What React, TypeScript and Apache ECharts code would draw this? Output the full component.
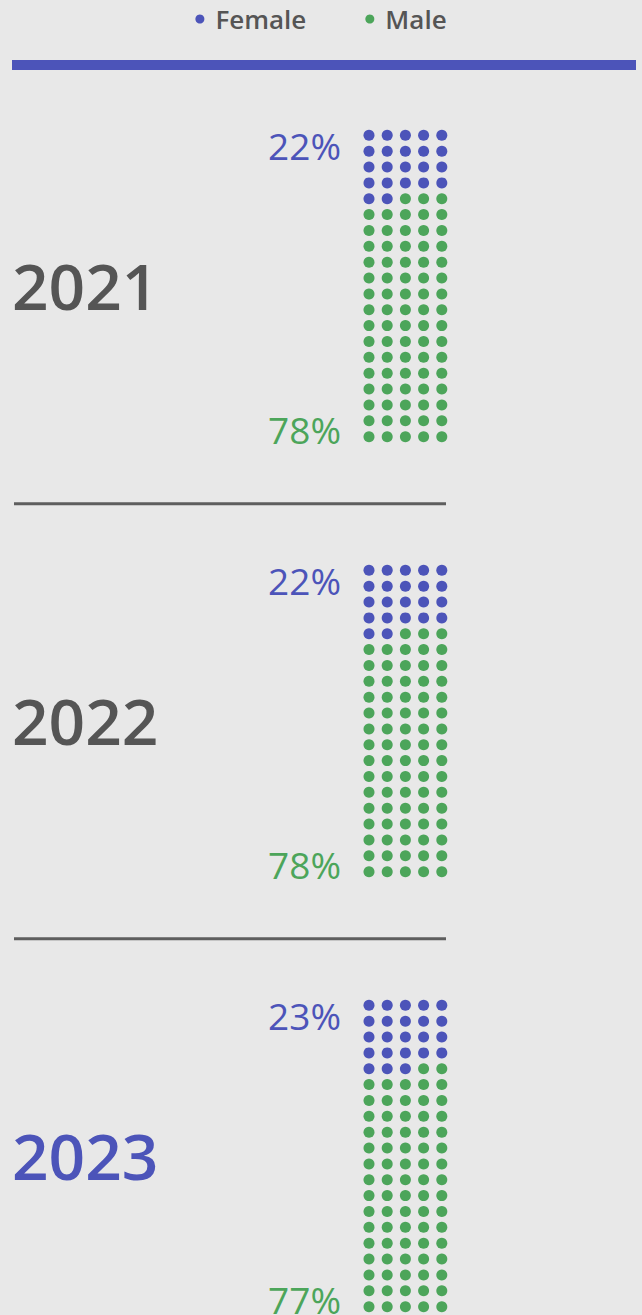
import React, { useEffect, useRef } from "react";
import * as echarts from "echarts";

const years = ["2021", "2022", "2023"];
const femaleDots = [22, 22, 23];
const maleDots = [78, 78, 77];
const femalePct = ["22%", "22%", "23%"];
const malePct = ["78%", "78%", "77%"];
const highlightYear = "2023";

const COLS = 5;
const ROWS = 20;
const BLUE = "#4c54b9";
const GREEN = "#4ca55a";
const GREY = "#555555";
const BG = "#e8e8e8";
const FONT = "'Open Sans', sans-serif";

export default function App() {
  const ref = useRef<HTMLDivElement>(null);
  useEffect(() => {
    document.body.style.margin = "0";
    const chart = echarts.init(ref.current!, undefined, { renderer: "svg" });
    const gridLeft = 369;
    const colStep = 18.2;
    const rowStep = 15.86;
    const firstTop = 135.3;
    const blockGap = 435;
    const dotSize = 11;

    const grids: any[] = [];
    const xAxes: any[] = [];
    const yAxes: any[] = [];
    const series: any[] = [];
    const graphics: any[] = [];

    years.forEach((yr, i) => {
      const top = firstTop + i * blockGap;
      const h = (ROWS - 1) * rowStep;
      grids.push({ left: gridLeft, top, width: (COLS - 1) * colStep, height: h });
      xAxes.push({ gridIndex: i, type: "value", min: 0, max: COLS - 1, show: false });
      yAxes.push({ gridIndex: i, type: "value", min: 0, max: ROWS - 1, inverse: true, show: false });
      const f: number[][] = [];
      const m: number[][] = [];
      const total = femaleDots[i] + maleDots[i];
      for (let k = 0; k < total; k++) {
        const pt = [k % COLS, Math.floor(k / COLS)];
        if (k < femaleDots[i]) f.push(pt);
        else m.push(pt);
      }
      series.push({
        name: "Female", type: "scatter", xAxisIndex: i, yAxisIndex: i, data: f,
        symbol: "circle", symbolSize: dotSize, itemStyle: { color: BLUE, opacity: 1 }, silent: true,
      });
      series.push({
        name: "Male", type: "scatter", xAxisIndex: i, yAxisIndex: i, data: m,
        symbol: "circle", symbolSize: dotSize, itemStyle: { color: GREEN, opacity: 1 }, silent: true,
      });
      graphics.push({
        type: "text", x: 341, y: top + 10,
        style: { text: femalePct[i], fill: BLUE, font: `400 37px ${FONT}`, textAlign: "right", textVerticalAlign: "middle" },
      });
      graphics.push({
        type: "text", x: 341, y: top + h - 7,
        style: { text: malePct[i], fill: GREEN, font: `400 37px ${FONT}`, textAlign: "right", textVerticalAlign: "middle" },
      });
      graphics.push({
        type: "text", x: 12, y: top + h / 2,
        style: { text: yr, fill: yr === highlightYear ? BLUE : GREY, font: `600 64px ${FONT}`, textAlign: "left", textVerticalAlign: "middle" },
      });
      if (i < years.length - 1) {
        graphics.push({
          type: "rect", shape: { x: 14, y: top + h + 65.5, width: 432, height: 3 },
          style: { fill: "#5e5e5e" },
        });
      }
    });
    graphics.push({ type: "rect", shape: { x: 12, y: 60, width: 624, height: 10 }, style: { fill: BLUE } });

    chart.setOption({
      animation: false,
      backgroundColor: BG,
      legend: {
        data: ["Female", "Male"],
        top: 1,
        left: "center",
        icon: "circle",
        itemWidth: 9,
        itemHeight: 9,
        itemGap: 59,
        textStyle: { fontFamily: FONT, fontSize: 26, fontWeight: 600, color: GREY, padding: [0, 0, 0, 6] },
        selectedMode: false,
      },
      grid: grids,
      xAxis: xAxes,
      yAxis: yAxes,
      series,
      graphic: graphics,
    });
    return () => chart.dispose();
  }, []);
  return <div ref={ref} style={{ width: 642, height: 1315, background: BG }} />;
}
